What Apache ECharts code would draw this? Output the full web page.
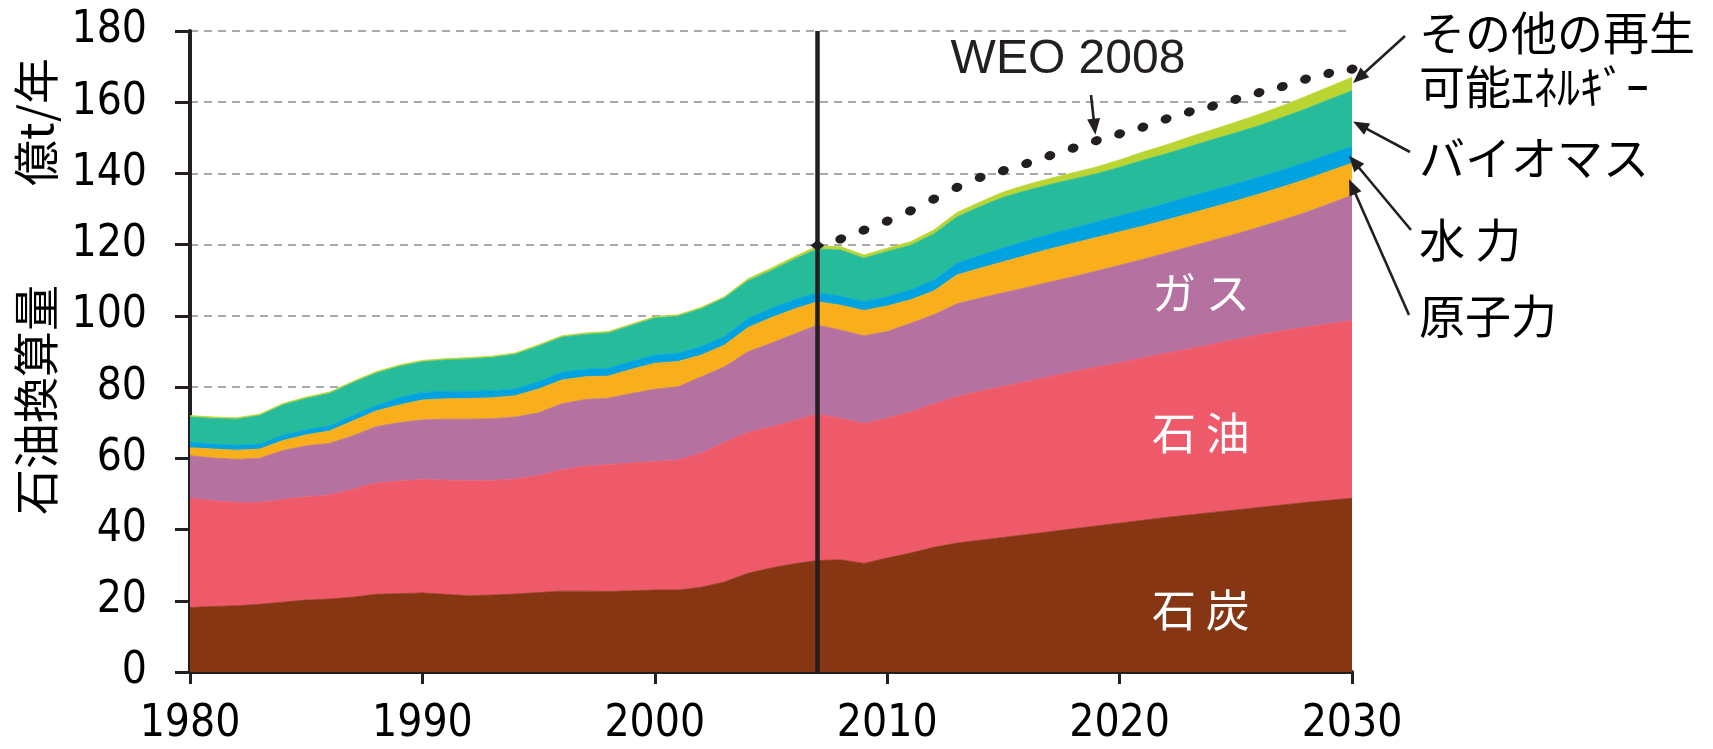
<!DOCTYPE html>
<html><head><meta charset="utf-8">
<script src="https://cdn.jsdelivr.net/npm/echarts@6/dist/echarts.min.js"></script>
<style>html,body{margin:0;padding:0;background:#fff}#c{width:1713px;height:749px}</style>
</head><body><div id="c"></div>
<script>
// ---- data (億t/年, 石油換算) ----
const years = [1980,1981,1982,1983,1984,1985,1986,1987,1988,1989,
  1990,1991,1992,1993,1994,1995,1996,1997,1998,1999,
  2000,2001,2002,2003,2004,2005,2006,2007,2008,2009,
  2010,2011,2012,2013,2014,2015,2016,2017,2018,2019,
  2020,2021,2022,2023,2024,2025,2026,2027,2028,2029,2030];
const coal = [18.1,18.4,18.6,19.0,19.6,20.2,20.5,21.0,21.8,22.0,
  22.2,21.8,21.4,21.6,21.9,22.3,22.7,22.7,22.6,22.8,
  23.0,23.0,23.8,25.3,27.7,29.2,30.4,31.3,31.5,30.5,
  32.0,33.4,35.0,36.2,37.0,37.8,38.6,39.4,40.2,41.0,
  41.8,42.6,43.4,44.1,44.8,45.5,46.2,46.9,47.6,48.2,48.8];
const oil = [30.7,29.7,29.0,28.6,28.9,29.0,29.2,30.3,31.3,31.6,
  31.9,32.1,32.3,32.2,32.3,32.9,34.1,35.1,35.6,35.9,
  36.1,36.5,37.7,39.2,39.6,39.6,40.2,41.1,39.7,39.3,
  39.3,39.6,40.3,41.1,41.9,42.4,43.0,43.6,44.1,44.6,
  45.1,45.6,46.1,46.7,47.3,47.9,48.5,48.9,49.2,49.6,49.9];
const gas = [11.9,12.0,12.1,12.4,13.7,14.3,14.5,15.0,15.8,16.4,
  16.7,17.1,17.3,17.3,17.4,17.6,18.5,18.7,18.7,19.5,
  20.3,20.6,21.4,21.2,22.6,23.5,24.3,25.0,24.8,24.6,
  24.3,24.9,25.0,26.1,26.1,26.3,26.4,26.5,26.7,27.0,
  27.3,27.7,28.1,28.6,29.1,29.6,30.2,31.1,32.2,33.6,35.2];
const nuclear = [2.3,2.5,2.6,2.6,2.8,3.1,3.5,4.2,4.4,5.0,
  5.6,5.7,5.8,5.9,6.0,6.7,6.7,6.4,6.2,6.8,
  7.3,7.1,6.1,6.1,6.8,7.2,7.0,6.6,7.0,7.1,
  7.2,6.6,6.7,8.1,8.4,8.7,9.0,9.3,9.4,9.4,
  9.4,9.3,9.3,9.3,9.3,9.3,9.3,9.3,9.3,9.2,9.0];
const hydro = [1.5,1.4,1.4,1.4,1.5,1.4,1.4,1.5,1.5,2.0,
  2.1,2.1,2.0,2.0,1.9,2.0,2.2,2.1,2.2,2.2,
  2.3,2.3,2.4,2.4,2.5,2.6,2.6,2.5,2.5,2.5,
  2.6,2.8,3.0,3.3,3.6,3.9,4.1,4.2,4.3,4.4,
  4.5,4.6,4.7,4.8,4.8,4.8,4.8,4.8,4.8,4.8,4.7];
const biomass = [7.1,7.2,7.3,8.0,8.5,8.8,9.1,9.2,9.1,8.8,
  8.6,8.8,9.1,9.3,9.7,10.0,9.8,9.8,9.9,10.1,
  10.4,10.4,10.6,10.8,10.6,10.6,11.4,12.3,13.0,12.2,
  12.7,12.5,13.0,13.0,13.7,14.2,14.1,13.9,13.7,13.5,
  13.6,13.9,13.9,14.0,14.2,14.3,14.4,14.7,15.0,15.3,15.6];
const otherRenew = [0.4,0.4,0.4,0.4,0.4,0.4,0.4,0.4,0.4,0.4,
  0.4,0.4,0.4,0.4,0.4,0.4,0.4,0.4,0.4,0.4,
  0.4,0.4,0.4,0.4,0.6,0.7,0.7,0.8,0.9,0.9,
  0.9,1.0,1.1,1.2,1.3,1.5,1.6,1.7,1.8,1.9,
  2.1,2.3,2.5,2.7,2.8,3.0,3.2,3.3,3.5,3.6,3.8];
const weoYears = [2007,2008,2009,2010,2011,2012,2013,2014,2015,2016,2017,2018,
  2019,2020,2021,2022,2023,2024,2025,2026,2027,2028,2029,2030];
const weo = [119.8,121.6,124.1,126.6,129.5,132.8,136.1,138.9,140.8,142.8,145.0,147.1,
  149.2,151.1,153.0,155.3,157.3,158.9,160.8,162.7,164.4,166.5,168.1,169.3];
const seriesNames = ['石炭','石油','ガス','原子力','水力','バイオマス','その他の再生可能エネルギー'];
const areaLabels = ['石 炭','石 油','ガ ス'];
const rightLabels = [['その他の再生','可能ｴﾈﾙｷﾞｰ'],['バイオマス'],['水 力'],['原子力']];
const yAxisTitle = ['石油換算量', '億t/年'];
const weoTitle = 'WEO 2008';
const divisionYear = 2007;

// ---- style ----
const colors = ['#873614','#EF5A6B','#B5719F','#F9AE1C','#00A3E0','#26BB9B','#BAD532'];
const ink = '#231F20';
const numFont = "'Liberation Sans Narrow','DejaVu Sans Condensed',sans-serif";
const jpFont = "'Noto Sans CJK JP','Noto Sans',sans-serif";

const chart = echarts.init(document.getElementById('c'), null, {renderer:'canvas'});
const valueSets = [coal, oil, gas, nuclear, hydro, biomass, otherRenew];
const cats = years.map(String);

const series = valueSets.map((arr, k) => ({
  type: 'line', name: seriesNames[k], stack: 'total', symbol: 'none', showSymbol: false,
  silent: true, z: 2,
  lineStyle: {width: 0.8, color: colors[k]},
  areaStyle: {color: colors[k], opacity: 1},
  data: arr.slice()
}));

series.push({
  type: 'line', name: weoTitle, silent: true, z: 6,
  symbol: 'path://M0,5a5,5 0 1,0 10,0a5,5 0 1,0 -10,0z', symbolSize: [11, 9], symbolRotate: 17,
  lineStyle: {opacity: 0, width: 0},
  itemStyle: {color: ink},
  data: weo.map((v, i) => i === 0
    ? {value: [String(weoYears[i]), v], symbol: 'diamond', symbolSize: [14, 11], symbolRotate: 0}
    : [String(weoYears[i]), v]),
  markLine: {
    silent: true, symbol: ['none','none'], animation: false,
    label: {show: false},
    lineStyle: {color: ink, width: 4.5, type: 'solid'},
    data: [{xAxis: String(divisionYear)}]
  }
});

const decade = (idx, val) => Number(val) % 10 === 0;
const option = {
  animation: false,
  backgroundColor: '#fff',
  grid: {left: 190, right: 361, top: 31, bottom: 77, containLabel: false},
  xAxis: {
    type: 'category', data: cats, boundaryGap: false,
    axisLine: {show: true, onZero: false, lineStyle: {color: ink, width: 4}},
    axisTick: {show: true, length: 12, interval: decade, lineStyle: {color: ink, width: 3}},
    splitLine: {show: false},
    axisLabel: {color: '#000', fontFamily: numFont, fontSize: 44, margin: 31, interval: decade}
  },
  yAxis: {
    type: 'value', min: 0, max: 180, interval: 20,
    axisLine: {show: true, onZero: false, lineStyle: {color: ink, width: 4}},
    axisTick: {show: true, length: 15, lineStyle: {color: ink, width: 3}},
    splitLine: {show: true, lineStyle: {color: '#A9A9AB', width: 2, type: [8, 6]}},
    axisLabel: {color: '#000', fontFamily: numFont, fontSize: 44, margin: 43, padding: [0,0,8,0]}
  },
  series: series
};
chart.setOption(option);

// ---- annotations anchored to the data through the axes ----
const P = (x, y) => chart.convertToPixel({gridIndex: 0}, [String(x), y]);
const last = years.length - 1;
let cum = 0;
const mids = valueSets.map(arr => { const m = cum + arr[last] / 2; cum += arr[last]; return m; });

function arrow(x1, y1, x2, y2) {
  const dx = x2 - x1, dy = y2 - y1, L = Math.hypot(dx, dy), ux = dx / L, uy = dy / L;
  const hl = 16, hw = 6.5;
  const bx = x2 - ux * hl, by = y2 - uy * hl;
  return [
    {type: 'line', silent: true, z: 100, shape: {x1: x1, y1: y1, x2: bx + ux * 2, y2: by + uy * 2},
      style: {stroke: ink, lineWidth: 2.6}},
    {type: 'polygon', silent: true, z: 100,
      shape: {points: [[x2, y2], [bx - uy * hw, by + ux * hw], [bx + uy * hw, by - ux * hw]]},
      style: {fill: ink}}
  ];
}
function txt(x, y, text, font, size, fill, align, extra) {
  return Object.assign({type: 'text', x: x, y: y, silent: true, z: 100,
    style: {text: text, fill: fill, fontFamily: font, fontSize: size, align: align || 'center', verticalAlign: 'middle'}}, extra || {});
}

const g = [];
// labels inside areas (centred half-way between 2023 and 2024)
function mid(y) { const a = P(2023, y), b = P(2024, y); return [(a[0] + b[0]) / 2, a[1]]; }
const c1 = mid(17.4), c2 = mid(67.1), c3 = mid(106.4);
g.push(txt(c1[0], c1[1], areaLabels[0], jpFont, 44, '#fff'));
g.push(txt(c2[0], c2[1], areaLabels[1], jpFont, 44, '#fff'));
g.push(txt(c3[0], c3[1], areaLabels[2], jpFont, 44, '#fff'));
// y axis title (two parts, rotated)
g.push(txt(36, 400, yAxisTitle[0], jpFont, 46, '#000', 'center', {rotation: Math.PI / 2}));
g.push(txt(36, 122, yAxisTitle[1], jpFont, 46, '#000', 'center', {rotation: Math.PI / 2}));
// WEO 2008 title and arrow to its 2019 dot
g.push(txt(1068, 60, weoTitle, "'Liberation Sans',Arial,sans-serif", 48, ink));
const wi = weoYears.indexOf(2019);
const wp = P(weoYears[wi], weo[wi]);
g.push(...arrow(1091, 95, wp[0] - 1, wp[1] - 6));
// right-hand labels with arrows to the 2030 edge of each band
const tipOther = P(2030, mids[6]), tipBio = P(2030, mids[5]), tipHyd = P(2030, mids[4]), tipNuc = P(2030, mids[3]);
g.push(...arrow(1405, 36, tipOther[0] + 1, tipOther[1] - 1));
g.push(...arrow(1410, 152, tipBio[0] + 1, tipBio[1] + 3));
g.push(...arrow(1411, 230, tipHyd[0] - 3, tipHyd[1] + 1));
g.push(...arrow(1409, 315, tipNuc[0] - 3, tipNuc[1]));
const lx = 1419;
g.push(txt(lx, 33, rightLabels[0][0], jpFont, 46, '#000', 'left'));
g.push(txt(lx, 87, rightLabels[0][1], jpFont, 46, '#000', 'left'));
g.push(txt(lx, 158, rightLabels[1][0], jpFont, 46, '#000', 'left'));
g.push(txt(lx, 240, rightLabels[2][0], jpFont, 46, '#000', 'left'));
g.push(txt(lx, 316, rightLabels[3][0], jpFont, 46, '#000', 'left'));

chart.setOption({graphic: {elements: g}});
</script>
</body></html>
